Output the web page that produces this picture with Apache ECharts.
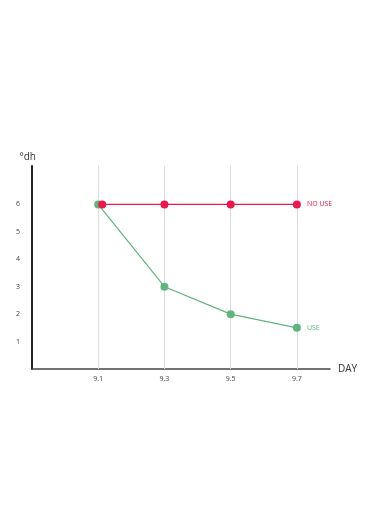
<!DOCTYPE html>
<html><head><meta charset="utf-8">
<script src="https://cdn.jsdelivr.net/npm/echarts@6/dist/echarts.min.js"></script>
<style>html,body{margin:0;padding:0;background:#fff}#c{width:370px;height:530px}</style>
</head><body><div id="c"></div>
<script>
const categories = ['9.1', '9.3', '9.5', '9.7'];
const noUseValues = [6, 6, 6, 6];
const useValues = [6, 3, 2, 1.5];
const yTicks = [1, 2, 3, 4, 5, 6];
// first NO USE point sits slightly right of the 9.1 gridline in the reference
const noUseX = [1.06, 2, 3, 4];
const useX = [1, 2, 3, 4];

const chart = echarts.init(document.getElementById('c'), null, {renderer: 'canvas'});
const red = '#e8194c', green = '#62b47e';
function mk(xs, ys, name, color) {
  return ys.map((v, i) => ({
    value: [xs[i], v],
    label: i === ys.length - 1 ? {show: true, position: 'right', distance: 6, formatter: name, color: color, fontSize: 7, fontFamily: 'Open Sans'} : {show: false}
  }));
}
chart.setOption({
  animation: false,
  grid: {left: 32, right: 40, top: 166, bottom: 161},
  xAxis: {
    type: 'value', min: 0, max: 4.5, interval: 1,
    name: 'DAY', nameLocation: 'end', nameGap: 8,
    nameTextStyle: {color: '#333', fontSize: 10, fontFamily: 'Open Sans', verticalAlign: 'middle'},
    axisLine: {show: true, lineStyle: {color: '#444', width: 1.5}},
    axisTick: {show: false},
    splitLine: {show: false},
    axisLabel: {color: '#444', fontSize: 7, fontFamily: 'Open Sans', margin: 6,
      formatter: v => (Number.isInteger(v) && v >= 1 && v <= categories.length) ? categories[v - 1] : ''}
  },
  yAxis: {
    type: 'value', min: 0, max: 7.4, interval: 1,
    name: '°dh', nameLocation: 'end', nameGap: 4,
    nameTextStyle: {color: '#333', fontSize: 10, fontFamily: 'Open Sans', align: 'right', padding: [0, -4, 0, 0]},
    axisLine: {show: true, lineStyle: {color: '#222', width: 2}},
    axisTick: {show: false},
    splitLine: {show: false},
    axisLabel: {color: '#444', fontSize: 7, fontFamily: 'Open Sans', margin: 12,
      formatter: v => yTicks.includes(v) ? String(v) : ''}
  },
  series: [
    {name: 'USE', type: 'line', data: mk(useX, useValues, 'USE', green), z: 3,
     color: green, symbol: 'circle', symbolSize: 8, lineStyle: {width: 1.2, color: green}, itemStyle: {color: green},
     markLine: {silent: true, symbol: 'none', label: {show: false}, z: 1,
       lineStyle: {color: '#dedede', width: 1, type: 'solid'},
       data: useX.map(x => ({xAxis: x}))}},
    {name: 'NO USE', type: 'line', data: mk(noUseX, noUseValues, 'NO USE', red), z: 4,
     color: red, symbol: 'circle', symbolSize: 8, lineStyle: {width: 1.2, color: red}, itemStyle: {color: red}}
  ]
});
</script></body></html>
